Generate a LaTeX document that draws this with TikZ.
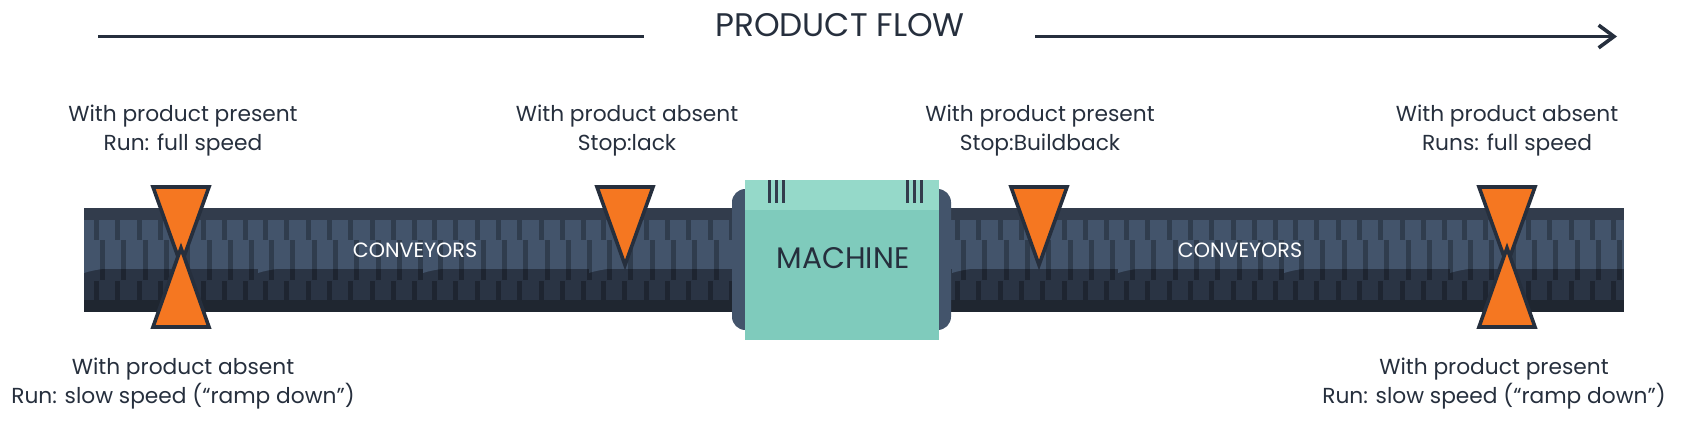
\documentclass[tikz,border=0pt]{standalone}
\usepackage{fontspec}
\setmainfont{Poppins}
\usepackage{xcolor}
\usetikzlibrary{positioning, arrows.meta}

\definecolor{inkdark}{HTML}{262F3D}
\definecolor{beltedge}{HTML}{323C4C}
\definecolor{beltmid}{HTML}{43546B}
\definecolor{beltlow}{HTML}{2A3444}
\definecolor{beltfoot}{HTML}{1F2630}
\definecolor{lidgreen}{HTML}{95D9C9}
\definecolor{bodygreen}{HTML}{7FCBBC}
\definecolor{valveorange}{HTML}{F57721}

\begin{document}
\begin{tikzpicture}[
    x=0.75pt,
    y=-0.75pt,
    every node/.style={text=inkdark, inner sep=0pt},
    caption/.style={align=center, font=\fontsize{16.3}{21.4}\selectfont},
    beltlabel/.style={text=white, font=\fontsize{15.5}{18}\selectfont},
    valve/.style={draw=inkdark, fill=valveorange, line width=2.7pt},
    tooth/.style={fill=black, opacity=0.27},
    flowline/.style={draw=inkdark, line width=2.7pt}
]
    \useasboundingbox (0,0) rectangle (1686,428);

    % Belt bands, left to right across the whole width
    \fill[beltedge] (84,208) rectangle (1624,220);
    \fill[beltmid] (84,220) rectangle (1624,269);
    \fill[beltlow] (84,269) rectangle (1624,300);
    \fill[beltfoot] (84,300) rectangle (1624,312);

    % Small sweeps where the belt pieces meet
    \foreach \sx in {84,258,423,589,952,1118,1284,1450}
        \fill[beltmid] (\sx,269) -- (\sx,273) .. controls (\sx+6,271) and (\sx+12,270) .. (\sx+18,269) -- cycle;

    % Belt teeth: 8 per piece, three rows
    \begin{scope}
        \clip (84,208) rectangle (1624,312);
        \foreach \sx in {94,263,432,601,955,1124,1293,1462}
            \foreach \k in {0,...,7} {
                \fill[tooth] (\sx+21.3*\k,220) rectangle +(5,20);
                \fill[tooth] (\sx+6+21.3*\k,240) rectangle +(5,40);
                \fill[tooth] (\sx+21.3*\k,281) rectangle +(5,19);
            }
    \end{scope}

    % Machine
    \fill[beltmid, rounded corners=10pt] (732,189) rectangle (951,330);
    \fill[bodygreen] (745,180) rectangle (939,340);
    \fill[lidgreen] (745,180) rectangle (939,210);
    \foreach \tx in {768,775,782,906,913,920}
        \fill[beltedge] (\tx,180) rectangle +(3,22.5);
    \node[font=\fontsize{22.3}{26}\selectfont] (machine) at (843,258) {MACHINE};

    \node[beltlabel] (conveyorA) at (415,250) {CONVEYORS};
    \node[beltlabel] (conveyorB) at (1240,250) {CONVEYORS};

    % Valves pointing down, then the two pointing up on top
    \foreach \sx in {181,625,1039,1507}
        \draw[valve] (\sx-28,187) -- (\sx,265) -- (\sx+28,187) -- cycle;
    \foreach \sx in {181,1507}
        \draw[valve] (\sx-28,327) -- (\sx,248) -- (\sx+28,327) -- cycle;

    % Product flow heading
    \node[font=\fontsize{24.5}{28}\selectfont] (flow) at (840,25) {PRODUCT FLOW};
    \coordinate (flowstart) at (98,36.5);
    \coordinate (flowgapA) at (644,36.5);
    \coordinate (flowgapB) at (1035,36.5);
    \coordinate (flowend) at (1617,36.5);
    \draw[flowline] (flowstart) -- (flowgapA);
    \draw[flowline, -{Straight Barb[length=11.5pt, width=17pt, line width=2.7pt]}] (flowgapB) -- (flowend);

    % Captions
    \node[caption] (capA) at (183,130.5) {With product present\\Run: full speed};
    \node[caption] (capB) at (627,130.5) {With product absent\\Stop:lack};
    \node[caption] (capC) at (1040,130.5) {With product present\\Stop:Buildback};
    \node[caption] (capD) at (1507,130.5) {With product absent\\Runs: full speed};
    \node[caption] (capE) at (183,383.5) {With product absent\\Run: slow speed (“ramp down”)};
    \node[caption] (capF) at (1494,383.5) {With product present\\Run: slow speed (“ramp down”)};
\end{tikzpicture}
\end{document}
